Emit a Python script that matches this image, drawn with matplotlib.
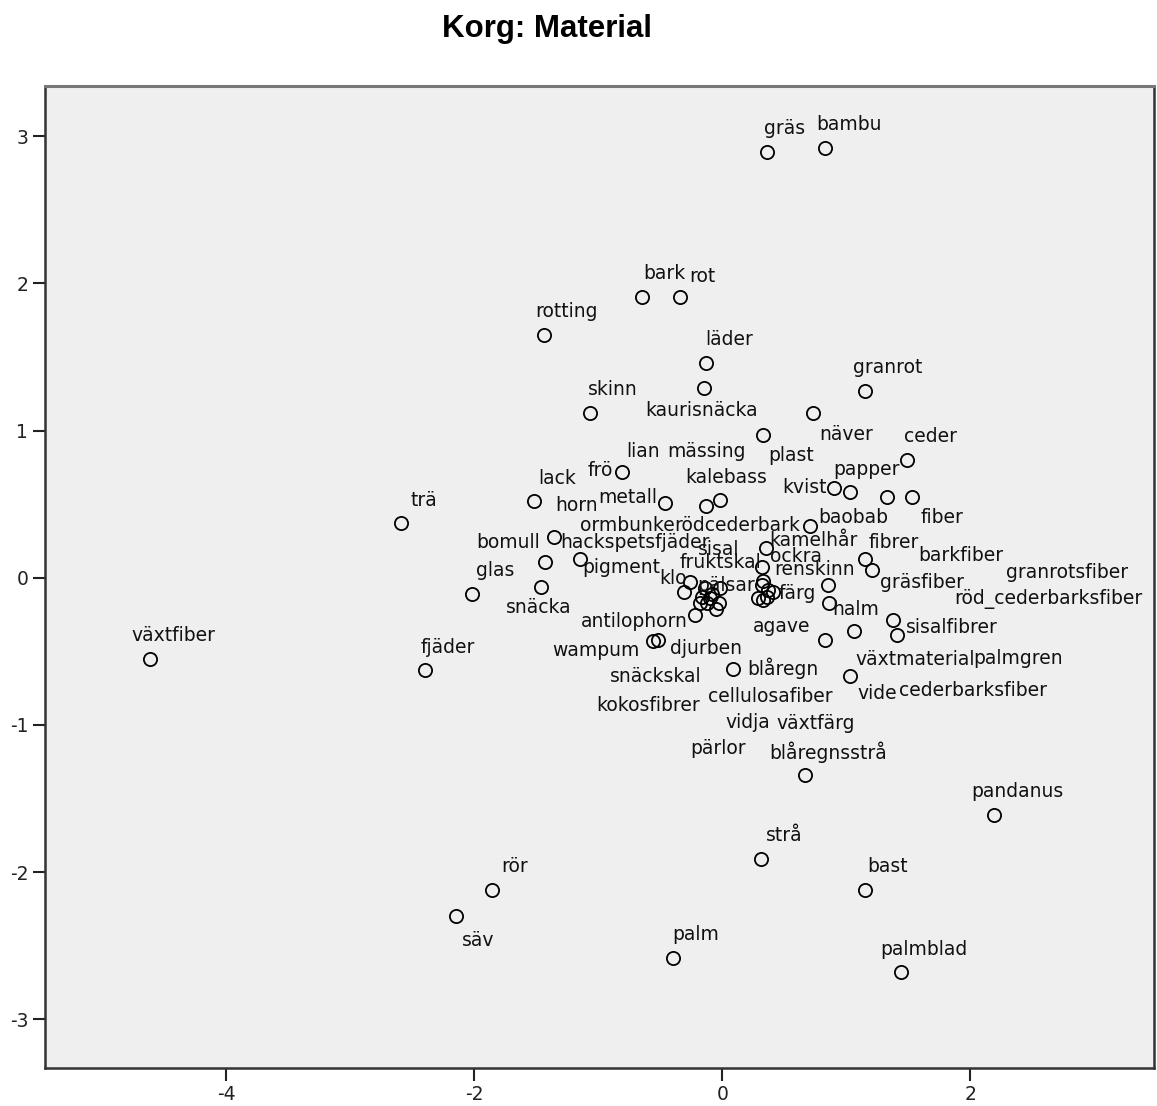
import matplotlib
matplotlib.use("Agg")
import matplotlib.pyplot as plt

plt.rcParams["axes.unicode_minus"] = False

# material names with their coordinates on the two dimensions
names = [
    "gräs", "bambu", "bark", "rot", "rotting", "läder", "granrot", "skinn",
    "kaurisnäcka", "näver", "plast", "ceder", "frö", "metall", "kalebass",
    "mässing", "lack", "trä", "horn", "bomull", "pigment", "glas", "snäcka",
    "växtfiber", "fjäder", "kvist", "papper", "barkfiber", "fiber", "baobab",
    "fibrer", "gräsfiber", "färg", "halm", "sisalfibrer", "växtmaterial",
    "vide", "agave", "wampum", "djurben", "blåregn", "blåregnsstrå",
    "pandanus", "strå", "bast", "rör", "säv", "palm", "palmblad",
    "fruktskal", "klo", "antilophorn", "snäckskal", "kokosfibrer",
    "cellulosafiber", "hackspetsfjäder", "ormbunke", "rödcederbark",
    "kamelhår", "ockra", "sisal", "renskinn", "pälsar", "vidja", "växtfärg",
    "pärlor", "granrotsfiber", "röd_cederbarksfiber", "palmgren",
    "cederbarksfiber", "lian",
]
dim1 = [
    0.36, 0.83, -0.65, -0.34, -1.44, -0.13, 1.15, -1.07,
    -0.15, 0.73, 0.33, 1.49, -0.81, -0.46, -0.02,
    -0.13, -1.52, -2.59, -1.36, -1.43, -1.15, -2.02, -1.46,
    -4.61, -2.40, 0.90, 1.03, 1.33, 1.53, 0.71,
    1.15, 1.21, 0.85, 1.06, 1.38, 1.41,
    1.03, 0.83, -0.56, -0.52, 0.09, 0.67,
    2.19, 0.31, 1.15, -1.86, -2.15, -0.40, 1.44,
    -0.26, -0.31, -0.22, -0.18, -0.12,
    -0.03, -0.08, -0.14, -0.02,
    0.35, 0.32, 0.33, 0.32, 0.41, 0.29, 0.36,
    0.33, 0.86, 0.37, -0.10,
    -0.05, -0.16,
]
dim2 = [
    2.89, 2.92, 1.91, 1.91, 1.65, 1.46, 1.27, 1.12,
    1.29, 1.12, 0.97, 0.80, 0.72, 0.51, 0.53,
    0.49, 0.52, 0.37, 0.28, 0.11, 0.13, -0.11, -0.06,
    -0.55, -0.63, 0.61, 0.58, 0.55, 0.55, 0.35,
    0.13, 0.05, -0.05, -0.36, -0.29, -0.39,
    -0.67, -0.42, -0.43, -0.42, -0.62, -1.34,
    -1.61, -1.91, -2.12, -2.12, -2.30, -2.58, -2.68,
    -0.03, -0.10, -0.25, -0.17, -0.17,
    -0.17, -0.11, -0.07, -0.07,
    0.20, 0.07, -0.02, -0.05, -0.10, -0.14, -0.13,
    -0.15, -0.17, -0.08, -0.14,
    -0.21, -0.13,
]

# label placement (pixels from the point); default is up and to the right
default_offset = (23, 23)
label_offset = {
    "gräs": (18, 24), "bambu": (24, 23), "rot": (22, 20), "kaurisnäcka": (-2, -23),
    "näver": (33, -22), "plast": (28, -21), "frö": (-22, 1), "metall": (-37, 5),
    "kalebass": (6, 22), "mässing": (0, 54), "horn": (23, 31), "bomull": (-37, 19),
    "pigment": (42, -9), "snäcka": (-2, -21), "kvist": (-29, 0), "papper": (16, 23),
    "barkfiber": (74, -59), "fiber": (30, -21), "baobab": (43, 9), "fibrer": (29, 16),
    "gräsfiber": (50, -12), "färg": (-30, -8), "halm": (2, 21), "sisalfibrer": (58, -7),
    "växtmaterial": (18, -24), "vide": (27, -17), "agave": (-44, 13),
    "wampum": (-57, -9), "djurben": (48, -9), "blåregn": (49, 1), "säv": (23, -24),
    "fruktskal": (30, 20), "klo": (-11, 14), "antilophorn": (-61, -7),
    "snäckskal": (-44, -74), "kokosfibrer": (-59, -103), "cellulosafiber": (52, -94),
    "hackspetsfjäder": (-77, 51), "ormbunke": (-78, 63), "rödcederbark": (17, 63),
    "kamelhår": (48, 8), "ockra": (34, 11), "sisal": (-45, 31), "renskinn": (53, 16),
    "pälsar": (-47, 7), "vidja": (-10, -124), "växtfärg": (49, -127),
    "pärlor": (-45, -149), "granrotsfiber": (238, 30), "röd_cederbarksfiber": (280, -9),
    "palmgren": (308, -60), "cederbarksfiber": (257, -82), "lian": (-59, 145),
}

fig = plt.figure(figsize=(11.57, 11.06), dpi=100)
ax = fig.add_axes([45 / 1157, 38 / 1106, 1109 / 1157, 982 / 1106])
ax.set_facecolor("#efefef")

ax.plot(dim1, dim2, linestyle="none", marker="o", markersize=9.5,
        markerfacecolor="none", markeredgecolor="black", markeredgewidth=1.3)

for name, xv, yv in zip(names, dim1, dim2):
    dx, dy = label_offset.get(name, default_offset)
    ax.annotate(name, (xv, yv), xytext=(dx, dy), textcoords="offset pixels",
                ha="center", va="center", fontsize=13.5, color="#111111",
                family="DejaVu Sans")

ax.set_xlim(-5.46, 3.48)
ax.set_ylim(-3.33, 3.34)
ax.set_xticks([-4, -2, 0, 2])
ax.set_yticks([-3, -2, -1, 0, 1, 2, 3])
ax.tick_params(direction="out", length=9, width=1.5, labelsize=13.5, pad=3,
               colors="#222222")

for side in ["left", "bottom", "right"]:
    ax.spines[side].set_color("#333333")
    ax.spines[side].set_linewidth(1.8)
ax.spines["top"].set_color("#777777")
ax.spines["top"].set_linewidth(2.2)

fig.text(547 / 1157, 1 - 29 / 1106, "Korg: Material", ha="center", va="center",
         fontsize=22.5, fontweight="bold", family="Liberation Sans")

fig.savefig("out.png", dpi=100)
